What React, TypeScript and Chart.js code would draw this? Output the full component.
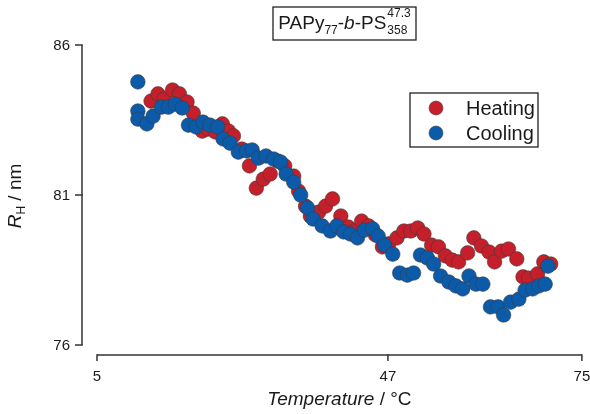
import React, { useEffect, useRef } from "react";
import { Chart, registerables } from "chart.js";

Chart.register(...registerables);

// Heating series: temperature (°C) and hydrodynamic radius (nm)
const heatingT = [
  12.8, 13.8, 14.7, 15.9, 16.9, 18.0, 18.9, 20.2, 21.1, 22.1,
  23.1, 24.0, 24.7, 25.9, 27.0, 28.0, 29.0, 30.0, 31.1, 32.1,
  33.4, 34.1, 35.1, 35.8, 37.0, 38.0, 39.0, 40.2, 41.3, 42.2,
  43.2, 44.2, 45.2, 46.2, 47.1, 48.3, 49.3, 50.3, 51.3, 52.2,
  53.3, 54.3, 55.3, 56.3, 57.2, 58.5, 59.4, 60.5, 61.6, 62.4,
  63.4, 64.4, 65.6, 66.5, 67.3, 68.6, 69.5, 70.5,
];
const heatingR = [
  84.13, 84.37, 84.2, 84.5, 84.37, 84.1, 83.73, 83.13, 83.2, 83.1,
  83.37, 83.13, 82.97, 82.53, 81.97, 81.23, 81.53, 81.7, 82.13, 81.97,
  81.63, 81.13, 80.63, 80.3, 80.43, 80.63, 80.87, 80.3, 79.93, 79.8,
  80.13, 79.97, 79.67, 79.27, 79.37, 79.57, 79.8, 79.8, 79.9, 79.7,
  79.33, 79.27, 78.97, 78.83, 78.77, 79.07, 79.57, 79.3, 79.1, 78.77,
  79.13, 79.2, 78.87, 78.27, 78.23, 78.37, 78.77, 78.7,
];

// Cooling series
const coolingT = [
  10.9, 10.9, 10.9, 12.2, 13.1, 14.3, 15.3, 16.3, 17.3, 18.2,
  19.3, 20.3, 21.3, 22.4, 23.2, 24.2, 25.4, 26.6, 27.4, 28.3,
  29.4, 30.5, 31.5, 32.3, 33.4, 34.4, 35.4, 36.2, 37.5, 38.7,
  39.6, 40.6, 41.6, 42.6, 43.6, 44.8, 45.6, 46.5, 47.7, 48.7,
  49.8, 50.7, 51.7, 52.7, 53.6, 54.6, 55.8, 56.8, 57.8, 58.7,
  59.7, 60.7, 61.8, 62.9, 63.7, 64.7, 65.9, 66.8, 67.9, 68.8,
  69.7, 70.1,
];
const coolingR = [
  84.77, 83.8, 83.53, 83.37, 83.63, 83.93, 83.93, 84.03, 83.9, 83.33,
  83.27, 83.43, 83.33, 83.27, 82.87, 82.73, 82.43, 82.47, 82.5, 82.23,
  82.3, 82.2, 82.1, 81.7, 81.43, 81.0, 80.57, 80.2, 79.97, 79.8,
  79.97, 79.77, 79.7, 79.57, 79.83, 79.87, 79.63, 79.33, 79.03, 78.4,
  78.33, 78.4, 79.0, 78.9, 78.7, 78.3, 78.1, 77.97, 77.87, 78.3,
  78.03, 78.03, 77.27, 77.27, 77.0, 77.43, 77.53, 77.83, 77.87, 77.97,
  78.03, 78.63,
];

const xTicks = [5, 47, 75];
const yTicks = [76, 81, 86];
const seriesLabels = ["Heating", "Cooling"];
const seriesColors = ["#C41F2A", "#0B5BAA"];

const FONT = '"Liberation Sans", Arial, Helvetica, sans-serif';

type Run = { text: string; font: string; dy?: number };

function runsWidth(ctx: CanvasRenderingContext2D, runs: Run[]) {
  let w = 0;
  for (const r of runs) {
    ctx.font = r.font;
    w += ctx.measureText(r.text).width;
  }
  return w;
}

function drawRuns(ctx: CanvasRenderingContext2D, runs: Run[], x: number, y: number) {
  let cx = x;
  for (const r of runs) {
    ctx.font = r.font;
    ctx.textAlign = "left";
    ctx.textBaseline = "alphabetic";
    ctx.fillText(r.text, cx, y + (r.dy || 0));
    cx += ctx.measureText(r.text).width;
  }
  return cx;
}

const decorPlugin = {
  id: "decor",
  afterDraw(chart: any) {
    const ctx: CanvasRenderingContext2D = chart.ctx;
    const xs = chart.scales.x;
    const ys = chart.scales.y;
    ctx.save();
    const axisColor = "#333333";
    ctx.strokeStyle = axisColor;
    ctx.fillStyle = "#1a1a1a";
    ctx.lineWidth = 1.5;
    ctx.lineCap = "butt";

    // Y axis (detached to the left)
    const yAxisX = xs.left - 15;
    const yTop = ys.getPixelForValue(Math.max(...yTicks));
    const yBot = ys.getPixelForValue(Math.min(...yTicks));
    ctx.beginPath();
    ctx.moveTo(yAxisX, yTop);
    ctx.lineTo(yAxisX, yBot);
    ctx.stroke();
    ctx.font = `15px ${FONT}`;
    ctx.textAlign = "right";
    ctx.textBaseline = "middle";
    for (const t of yTicks) {
      const py = ys.getPixelForValue(t);
      ctx.beginPath();
      ctx.moveTo(yAxisX - 7, py);
      ctx.lineTo(yAxisX + 0.75, py);
      ctx.stroke();
      ctx.fillText(String(t), yAxisX - 12, py + 1);
    }

    // X axis (detached below)
    const xAxisY = ys.bottom + 10;
    const xL = xs.getPixelForValue(Math.min(...xTicks));
    const xR = xs.getPixelForValue(Math.max(...xTicks));
    ctx.beginPath();
    ctx.moveTo(xL, xAxisY);
    ctx.lineTo(xR, xAxisY);
    ctx.stroke();
    ctx.textAlign = "center";
    ctx.textBaseline = "alphabetic";
    ctx.font = `15px ${FONT}`;
    for (const t of xTicks) {
      const px = xs.getPixelForValue(t);
      ctx.beginPath();
      ctx.moveTo(px, xAxisY - 0.75);
      ctx.lineTo(px, xAxisY + 6);
      ctx.stroke();
      ctx.fillText(String(t), px, xAxisY + 26);
    }

    // X title
    const xRuns: Run[] = [
      { text: "Temperature", font: `italic 19px ${FONT}` },
      { text: " / °C", font: `19px ${FONT}` },
    ];
    const xw = runsWidth(ctx, xRuns);
    drawRuns(ctx, xRuns, (xL + xR) / 2 - xw / 2, 405);

    // Y title (rotated)
    ctx.save();
    ctx.translate(21, 196);
    ctx.rotate(-Math.PI / 2);
    const yRuns: Run[] = [
      { text: "R", font: `italic 19px ${FONT}` },
      { text: "H", font: `12px ${FONT}`, dy: 4 },
      { text: " / nm", font: `19px ${FONT}` },
    ];
    const yw = runsWidth(ctx, yRuns);
    drawRuns(ctx, yRuns, -yw / 2, 0);
    ctx.restore();

    // Title box
    const tMain = `19px ${FONT}`;
    const tSmall = `12px ${FONT}`;
    const tRuns: Run[] = [
      { text: "PAPy", font: tMain },
      { text: "77", font: tSmall, dy: 5 },
      { text: "-", font: tMain },
      { text: "b", font: `italic 19px ${FONT}` },
      { text: "-PS", font: tMain },
    ];
    ctx.font = tSmall;
    const supW = ctx.measureText("47.3").width;
    const subW = ctx.measureText("358").width;
    const stackW = Math.max(supW, subW);
    const titleW = runsWidth(ctx, tRuns) + 1 + stackW;
    const boxL = 273, boxR = 416, boxT = 7, boxB = 40;
    ctx.lineWidth = 1.3;
    ctx.strokeStyle = "#222";
    ctx.strokeRect(boxL, boxT, boxR - boxL, boxB - boxT);
    const tx = (boxL + boxR) / 2 - titleW / 2;
    const base = 29;
    const endX = drawRuns(ctx, tRuns, tx, base) + 1;
    ctx.font = tSmall;
    ctx.textAlign = "left";
    ctx.fillText("47.3", endX, base - 12);
    ctx.fillText("358", endX, base + 5);

    // Legend box
    const lL = 410, lR = 538, lT = 93, lB = 147;
    ctx.lineWidth = 1.3;
    ctx.strokeStyle = "#222";
    ctx.strokeRect(lL, lT, lR - lL, lB - lT);
    const rows = [108, 133];
    chart.data.datasets.forEach((ds: any, i: number) => {
      const cy = rows[i];
      ctx.beginPath();
      ctx.arc(436, cy, 7, 0, Math.PI * 2);
      ctx.fillStyle = ds.backgroundColor;
      ctx.fill();
      ctx.lineWidth = 0.8;
      ctx.strokeStyle = "rgba(60,60,60,0.7)";
      ctx.stroke();
      ctx.fillStyle = "#1a1a1a";
      ctx.font = `20px ${FONT}`;
      ctx.textAlign = "left";
      ctx.textBaseline = "alphabetic";
      ctx.fillText(ds.label, 466, cy + 7);
    });

    ctx.restore();
  },
};

export default function App() {
  const canvasRef = useRef<HTMLCanvasElement | null>(null);

  useEffect(() => {
    const canvas = canvasRef.current;
    if (!canvas) return;
    const heating = heatingT.map((t, i) => ({ x: t, y: heatingR[i] }));
    const cooling = coolingT.map((t, i) => ({ x: t, y: coolingR[i] }));
    const chart = new Chart(canvas, {
      type: "scatter",
      data: {
        datasets: [
          {
            label: seriesLabels[0],
            data: heating,
            backgroundColor: seriesColors[0],
            borderColor: "rgba(60,60,60,0.7)",
            borderWidth: 0.8,
            pointRadius: 7.3,
            pointHoverRadius: 7.3,
            order: 2,
          },
          {
            label: seriesLabels[1],
            data: cooling,
            backgroundColor: seriesColors[1],
            borderColor: "rgba(60,60,60,0.7)",
            borderWidth: 0.8,
            pointRadius: 7.3,
            pointHoverRadius: 7.3,
            order: 1,
          },
        ],
      },
      options: {
        responsive: false,
        animation: false,
        layout: { padding: { left: 97, top: 45, right: 8, bottom: 69 } },
        plugins: {
          legend: { display: false },
          tooltip: { enabled: false },
          title: { display: false },
        },
        scales: {
          x: { type: "linear", min: 5, max: 75, display: false },
          y: { type: "linear", min: 76, max: 86, display: false },
        },
      },
      plugins: [decorPlugin],
    });
    return () => chart.destroy();
  }, []);

  return (
    <div style={{ position: "fixed", left: 0, top: 0, width: 590, height: 414, background: "#fff" }}>
      <canvas ref={canvasRef} width={590} height={414} style={{ display: "block" }} />
    </div>
  );
}
